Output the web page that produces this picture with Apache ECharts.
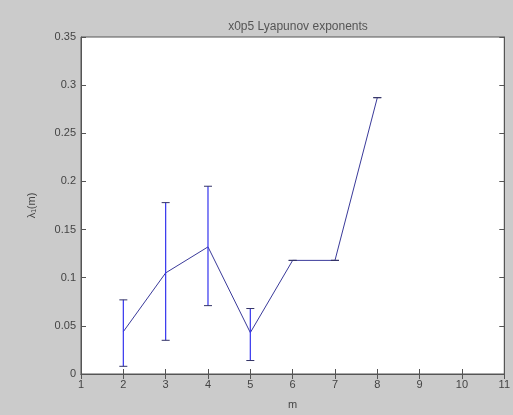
<!DOCTYPE html>
<html><head><meta charset="utf-8">
<script src="https://cdn.jsdelivr.net/npm/echarts@6/dist/echarts.min.js"></script>
<style>html,body{margin:0;padding:0;background:#cbcbcb;}#c{width:513px;height:415px;}</style>
</head><body><div id="c"></div>
<script>
var mValues = [2, 3, 4, 5, 6, 7, 8];
var lambdaValues = [0.044, 0.105, 0.132, 0.043, 0.118, 0.118, 0.287];
var errLower = [0.008, 0.035, 0.071, 0.014, 0.118, 0.118, 0.287];
var errUpper = [0.077, 0.178, 0.195, 0.068, 0.118, 0.118, 0.287];
var xTicks = [1, 2, 3, 4, 5, 6, 7, 8, 9, 10, 11];
var yTicks = [0, 0.05, 0.1, 0.15, 0.2, 0.25, 0.3, 0.35];

var lineData = mValues.map(function (m, i) { return [m, lambdaValues[i]]; });
var errData = mValues.map(function (m, i) { return [m, errLower[i], errUpper[i]]; });

var chart = echarts.init(document.getElementById('c'));
var axisFont = { fontFamily: 'Liberation Sans', fontSize: 11, color: '#444' };
function xfmt(v) { return xTicks.indexOf(v) >= 0 ? String(v) : ''; }
function yfmt(v) { var r = Math.round(v * 100) / 100; return yTicks.indexOf(r) >= 0 ? String(r) : ''; }

chart.setOption({
  backgroundColor: '#cbcbcb',
  animation: false,
  title: {
    text: 'x0p5 Lyapunov exponents', left: 293, top: 16, textAlign: 'center',
    textStyle: { fontFamily: 'Liberation Sans', fontSize: 12, fontWeight: 'normal', color: '#555' }
  },
  grid: { left: 81, right: 5, top: 37, bottom: 41, show: true, backgroundColor: '#fff', borderColor: '#555', borderWidth: 1 },
  xAxis: [{
    type: 'value', min: 1, max: 11, interval: 1, name: 'm', nameLocation: 'middle', nameGap: 25,
    nameTextStyle: { fontFamily: 'Liberation Sans', fontSize: 11, color: '#444' },
    axisLine: { lineStyle: { color: '#555' } },
    axisTick: { inside: true, length: 5, lineStyle: { color: '#555' } },
    axisLabel: Object.assign({ margin: 5, formatter: xfmt }, axisFont),
    splitLine: { show: false }
  }, {
    type: 'value', position: 'top', min: 1, max: 11, interval: 1,
    axisLine: { lineStyle: { color: '#555' } },
    axisTick: { inside: true, length: 5, lineStyle: { color: '#555' } },
    axisLabel: { show: false }, splitLine: { show: false }
  }],
  yAxis: [{
    type: 'value', min: 0, max: 0.35, interval: 0.05, name: 'λ₁(m)', nameLocation: 'middle', nameGap: 44,
    nameTextStyle: { fontFamily: 'Liberation Sans', fontSize: 11, color: '#444' },
    axisLine: { lineStyle: { color: '#555' } },
    axisTick: { inside: true, length: 5, lineStyle: { color: '#555' } },
    axisLabel: Object.assign({ margin: 5, formatter: yfmt }, axisFont),
    splitLine: { show: false }
  }, {
    type: 'value', position: 'right', min: 0, max: 0.35, interval: 0.05,
    axisLine: { lineStyle: { color: '#555' } },
    axisTick: { inside: true, length: 5, lineStyle: { color: '#555' } },
    axisLabel: { show: false }, splitLine: { show: false }
  }],
  series: [{
    type: 'line', data: lineData, showSymbol: false, symbol: 'none',
    lineStyle: { color: '#3a3a9a', width: 1 }, z: 3
  }, {
    type: 'custom', data: errData, z: 4,
    renderItem: function (params, api) {
      var x = api.value(0);
      var lo = api.coord([x, api.value(1)]);
      var hi = api.coord([x, api.value(2)]);
      var w = 4;
      return {
        type: 'group', children: [
          { type: 'line', shape: { x1: lo[0], y1: lo[1], x2: hi[0], y2: hi[1] }, style: { stroke: '#3333ee', lineWidth: 1.2 } },
          { type: 'line', shape: { x1: lo[0] - w, y1: lo[1], x2: lo[0] + w, y2: lo[1] }, style: { stroke: '#333366', lineWidth: 1 } },
          { type: 'line', shape: { x1: hi[0] - w, y1: hi[1], x2: hi[0] + w, y2: hi[1] }, style: { stroke: '#333366', lineWidth: 1 } }
        ]
      };
    }
  }]
});
</script></body></html>
